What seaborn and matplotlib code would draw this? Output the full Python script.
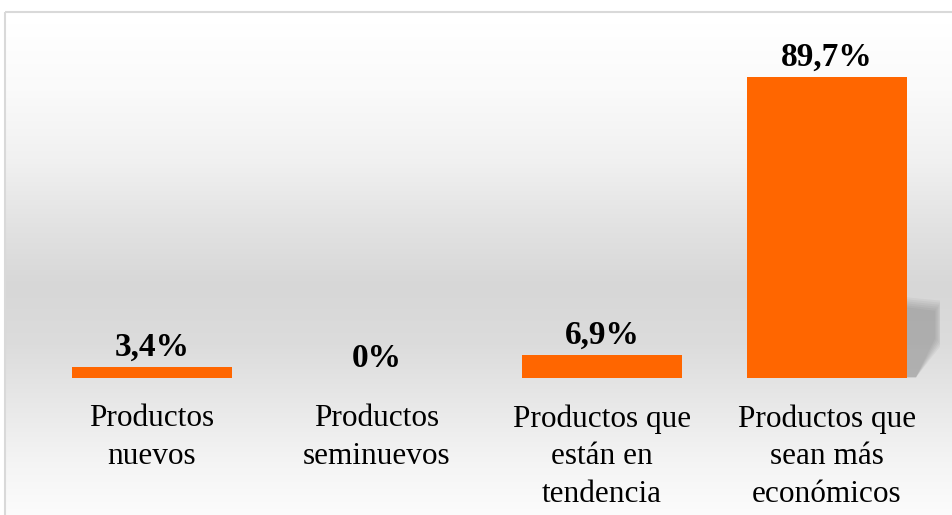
import numpy as np
import pandas as pd
import matplotlib
matplotlib.use("Agg")
import matplotlib.pyplot as plt
import seaborn as sns
from matplotlib.patches import Rectangle, Polygon

categories = ["Productos\nnuevos", "Productos\nseminuevos",
              "Productos que\nestán en\ntendencia", "Productos que\nsean más\neconómicos"]
values = [3.4, 0.0, 6.9, 89.7]
value_labels = ["3,4%", "0%", "6,9%", "89,7%"]

sns.set_theme(style="white")
plt.rcParams['font.family'] = ['Liberation Serif', 'DejaVu Serif']

W, H = 952, 515
fig = plt.figure(figsize=(W / 100, H / 100), dpi=100)
fig.patch.set_facecolor("white")

# background panel with vertical gradient
bg = fig.add_axes([0, 0, 1, 1], zorder=0)
bg.axis("off")
ys = np.arange(0, H)
stops_y = [12, 80, 150, 220, 280, 340, 400, 460, 515]
stops_v = [255, 250, 241, 226, 215, 220, 232, 244, 252]
vals = np.interp(ys, stops_y, stops_v) / 255.0
grad = np.repeat(vals[:, None], 2, axis=1)
bg.imshow(np.dstack([grad, grad, grad]), extent=[5, W + 10, H, 12], aspect="auto",
          interpolation="bilinear", zorder=0)
bg.add_patch(Rectangle((5, 12), W + 20, H + 20, fill=False, edgecolor="#d9d9d9", lw=1.5, zorder=1))
bg.set_xlim(0, W)
bg.set_ylim(H, 0)

# main axes: x from 39.5 to 939.5 px, y0 at 378 px
left = 39.5 / W
right = 939.5 / W
y0_px = 378
top_px = 42
ax = fig.add_axes([left, 1 - y0_px / H, right - left, (y0_px - top_px) / H], zorder=2)
ax.patch.set_alpha(0)

df = pd.DataFrame({"cat": categories, "val": values})
sns.barplot(data=df, x="cat", y="val", color="#ff6600", saturation=1, width=0.711,
            linewidth=0, edgecolor="none", ax=ax, zorder=3)
ax.set_ylim(0, 100)
ax.set_xlim(-0.5, 3.5)

# soft shadow behind largest bar
bars = ax.patches
big = bars[3]
bx = big.get_x() + big.get_width()
for i in range(6):
    d = i * 0.6
    poly = Polygon([(bx, 24 - d), (bx + 0.155 - i * 0.006, 23 - d),
                    (bx + 0.155 - i * 0.006, 10 + d * 0.6), (bx + 0.04, 0.2), (bx, 0.2)],
                   closed=True, facecolor="#606060", edgecolor="none", alpha=0.07, zorder=2)
    ax.add_patch(poly)

for p, lab in zip(bars, value_labels):
    ax.text(p.get_x() + p.get_width() / 2, p.get_height() + 1.1, lab,
            ha="center", va="bottom", fontsize=24, fontweight="bold", color="black", zorder=4)

ax.set_xlabel("")
ax.set_ylabel("")
ax.set_yticks([])
ax.tick_params(axis="x", length=0, pad=19, labelsize=22.5, labelcolor="black")
for lbl in ax.get_xticklabels():
    lbl.set_linespacing(1.38)
    lbl.set_verticalalignment("top")
for s in ax.spines.values():
    s.set_visible(False)

fig.savefig("out.png", dpi=100)
